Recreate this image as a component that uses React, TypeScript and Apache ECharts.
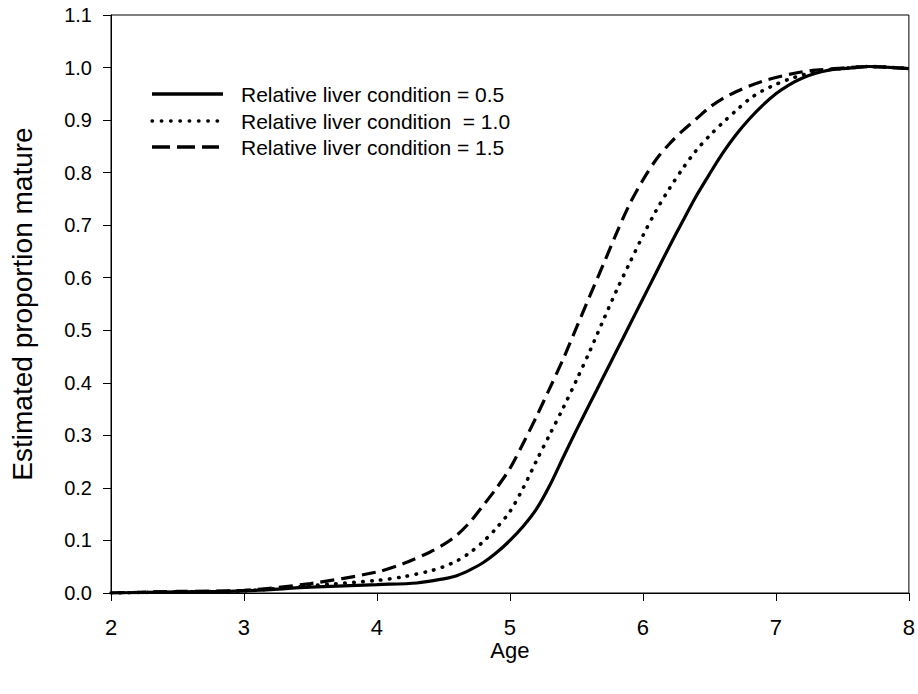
import React, { useEffect, useRef } from "react";
import * as echarts from "echarts";

const seriesNames = [
  "Relative liver condition = 0.5",
  "Relative liver condition  = 1.0",
  "Relative liver condition = 1.5",
];

const xTicks = [2, 3, 4, 5, 6, 7, 8];

// [age, proportion mature]
const cond05: [number, number][] = [
  [2.0, 0.0], [2.5, 0.002], [3.0, 0.004], [3.5, 0.011], [4.0, 0.016], [4.3, 0.019],
  [4.5, 0.027], [4.6, 0.033], [4.7, 0.044], [4.8, 0.058], [4.9, 0.077], [5.0, 0.1],
  [5.1, 0.127], [5.2, 0.16], [5.3, 0.205], [5.4, 0.258], [5.5, 0.31], [5.6, 0.36],
  [5.7, 0.41], [5.8, 0.46], [5.9, 0.51], [6.0, 0.56], [6.1, 0.61], [6.2, 0.66],
  [6.3, 0.708], [6.4, 0.755], [6.5, 0.797], [6.6, 0.837], [6.7, 0.872], [6.8, 0.902],
  [6.9, 0.928], [7.0, 0.95], [7.1, 0.967], [7.2, 0.98], [7.3, 0.989], [7.4, 0.995],
  [7.5, 0.998], [7.6, 1.0], [7.7, 1.002], [7.8, 1.001], [8.0, 0.998],
];

const cond10: [number, number][] = [
  [2.0, 0.0], [2.5, 0.002], [3.0, 0.004], [3.5, 0.014], [4.0, 0.024], [4.2, 0.031],
  [4.4, 0.042], [4.5, 0.05], [4.6, 0.061], [4.7, 0.077], [4.8, 0.098], [4.9, 0.124],
  [5.0, 0.155], [5.1, 0.2], [5.2, 0.252], [5.3, 0.302], [5.4, 0.352], [5.5, 0.405],
  [5.6, 0.46], [5.7, 0.518], [5.8, 0.575], [5.9, 0.628], [6.0, 0.68], [6.1, 0.728],
  [6.2, 0.77], [6.3, 0.808], [6.4, 0.842], [6.5, 0.87], [6.6, 0.895], [6.7, 0.918],
  [6.8, 0.94], [6.9, 0.956], [7.0, 0.968], [7.1, 0.978], [7.2, 0.986], [7.3, 0.992],
  [7.4, 0.996], [7.5, 0.998], [7.7, 1.002], [8.0, 0.998],
];

const cond15: [number, number][] = [
  [2.0, 0.0], [2.5, 0.003], [3.0, 0.005], [3.5, 0.018], [4.0, 0.04], [4.2, 0.056],
  [4.4, 0.078], [4.5, 0.092], [4.6, 0.11], [4.7, 0.135], [4.8, 0.167], [4.9, 0.2],
  [5.0, 0.237], [5.1, 0.285], [5.2, 0.336], [5.3, 0.39], [5.4, 0.445], [5.5, 0.505],
  [5.6, 0.565], [5.7, 0.624], [5.8, 0.684], [5.9, 0.74], [6.0, 0.786], [6.1, 0.825],
  [6.2, 0.855], [6.3, 0.88], [6.4, 0.902], [6.5, 0.924], [6.6, 0.941], [6.7, 0.954],
  [6.8, 0.965], [6.9, 0.974], [7.0, 0.981], [7.1, 0.987], [7.2, 0.992], [7.3, 0.995],
  [7.5, 0.999], [7.7, 1.002], [8.0, 0.998],
];

const FONT = "'Liberation Sans', Arial, Helvetica, sans-serif";

const lineTypes: any[] = ["solid", [0.5, 8.5], [14, 7]];
const legendDash: any[] = [null, [0.5, 8.8], [18, 7]];

export default function App() {
  const ref = useRef<HTMLDivElement>(null);

  useEffect(() => {
    if (!ref.current) return;
    const chart = echarts.init(ref.current, undefined, { renderer: "svg" });
    const datasets = [cond05, cond10, cond15];
    const series = datasets.map((data, i) => ({
      name: seriesNames[i],
      type: "line",
      data,
      smooth: 0.3,
      showSymbol: false,
      symbol: "none",
      lineStyle: {
        color: "#000",
        width: i === 1 ? 3.6 : 3.2,
        type: lineTypes[i],
        cap: i === 1 ? "round" : "butt",
      },
    }));

    const legendRowsY = [94, 121, 147];
    const legendGraphics: any[] = [];
    seriesNames.forEach((name, i) => {
      legendGraphics.push({
        type: "line",
        shape: { x1: 152, y1: legendRowsY[i], x2: i === 0 ? 223 : 219, y2: legendRowsY[i] },
        style: {
          stroke: "#000",
          lineWidth: 3.4,
          lineDash: legendDash[i] || undefined,
          lineCap: i === 1 ? "round" : "butt",
        },
        silent: true,
      });
      legendGraphics.push({
        type: "text",
        x: 241,
        y: legendRowsY[i],
        style: {
          text: name,
          fill: "#000",
          font: `21px ${FONT}`,
          verticalAlign: "middle",
          align: "left",
        },
        silent: true,
      });
    });

    chart.setOption({
      animation: false,
      backgroundColor: "#fff",
      textStyle: { fontFamily: FONT },
      grid: {
        left: 108,
        right: 9,
        top: 15,
        bottom: 101,
        show: true,
        borderColor: "#000",
        borderWidth: 1,
        backgroundColor: "transparent",
      },
      xAxis: {
        type: "value",
        min: xTicks[0],
        max: xTicks[xTicks.length - 1],
        interval: 1,
        name: "Age",
        nameLocation: "middle",
        nameGap: 46,
        nameMoveOverlap: false,
        nameTextStyle: { fontSize: 22, color: "#000", fontFamily: FONT },
        axisLine: { show: true, lineStyle: { color: "#000", width: 1 } },
        axisTick: { show: true, inside: false, length: 8, lineStyle: { color: "#000" } },
        axisLabel: { fontSize: 22, color: "#000", margin: 23, fontFamily: FONT },
        splitLine: { show: false },
      },
      yAxis: {
        type: "value",
        min: 0,
        max: 1.1,
        interval: 0.1,
        name: "Estimated proportion mature",
        nameLocation: "middle",
        nameGap: 75,
        nameMoveOverlap: false,
        nameTextStyle: { fontSize: 28, color: "#000", fontFamily: FONT },
        axisLine: { show: true, lineStyle: { color: "#000", width: 1 } },
        axisTick: { show: true, inside: false, length: 8, lineStyle: { color: "#000" } },
        axisLabel: {
          fontSize: 20,
          color: "#000",
          margin: 19,
          fontFamily: FONT,
          formatter: (v: number) => v.toFixed(1),
        },
        splitLine: { show: false },
      },
      graphic: legendGraphics,
      series,
    });
    return () => chart.dispose();
  }, []);

  return (
    <div
      ref={ref}
      style={{ position: "absolute", left: 0, top: 0, width: 918, height: 694 }}
    />
  );
}
